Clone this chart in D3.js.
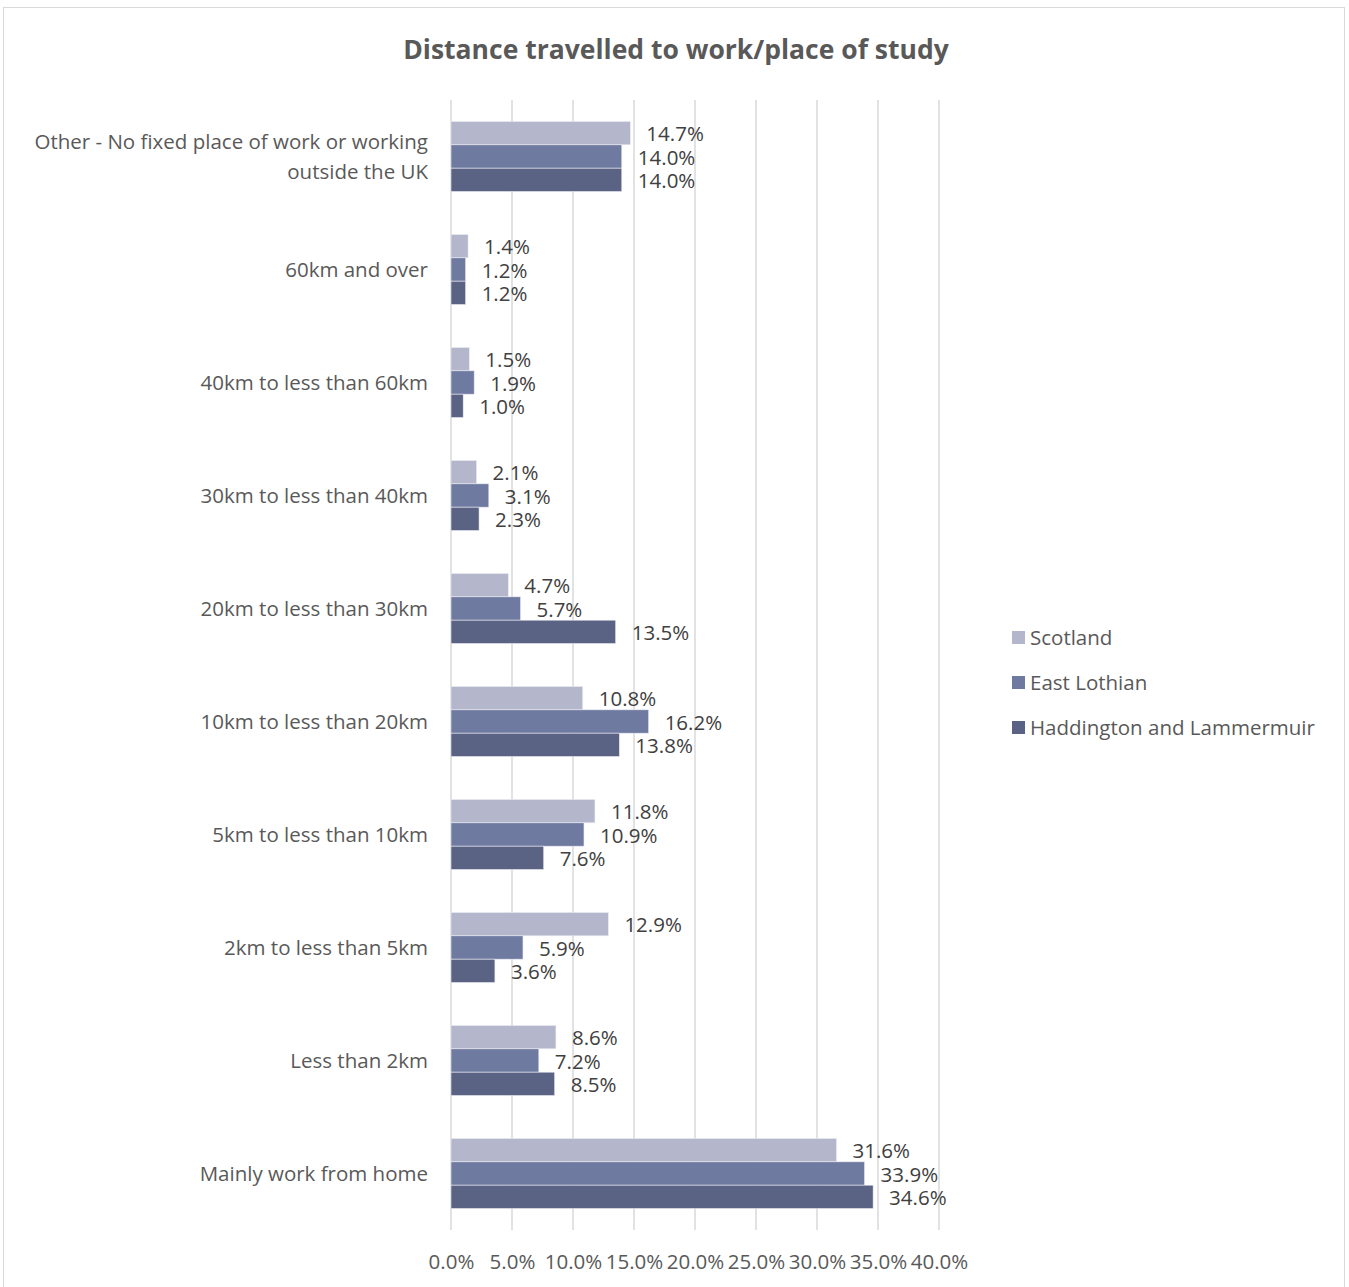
<!DOCTYPE html>
<html>
<head>
<meta charset="utf-8">
<script src="https://cdn.jsdelivr.net/npm/d3@7"></script>
<style>
  body { margin: 0; background: #fff; font-family: "Open Sans", sans-serif; }
</style>
</head>
<body>
<script>
const w = 1349;
const h = 1287;

// data, top to bottom as drawn
const categories = [
  "Other - No fixed place of work or working outside the UK",
  "60km and over",
  "40km to less than 60km",
  "30km to less than 40km",
  "20km to less than 30km",
  "10km to less than 20km",
  "5km to less than 10km",
  "2km to less than 5km",
  "Less than 2km",
  "Mainly work from home"
];
const seriesNames = ["Scotland", "East Lothian", "Haddington and Lammermuir"];
const scotland = [14.7, 1.4, 1.5, 2.1, 4.7, 10.8, 11.8, 12.9, 8.6, 31.6];
const eastLothian = [14.0, 1.2, 1.9, 3.1, 5.7, 16.2, 10.9, 5.9, 7.2, 33.9];
const haddington = [14.0, 1.2, 1.0, 2.3, 13.5, 13.8, 7.6, 3.6, 8.5, 34.6];
const xTicks = [0, 5, 10, 15, 20, 25, 30, 35, 40];
const colors = ["#B4B7CB", "#6F7AA0", "#5B6385"];

const seriesValues = [scotland, eastLothian, haddington];
const fs = 20.5;

const svg = d3.select("body")
  .append("svg")
  .attr("width", w)
  .attr("height", h);

// outer frame
svg.append("rect")
  .attr("x", 3.5).attr("y", 7.5)
  .attr("width", 1341).attr("height", 1290)
  .attr("fill", "#fff")
  .attr("stroke", "#D9D9D9");

svg.append("text")
  .text("Distance travelled to work/place of study")
  .attr("x", 676)
  .attr("y", 59)
  .attr("text-anchor", "middle")
  .attr("font-size", 26.5)
  .attr("font-weight", "bold")
  .attr("fill", "#595959");

const xScale = d3.scaleLinear()
  .domain([0, 40])
  .range([451, 939]);

const yScale = d3.scaleBand()
  .domain(categories)
  .range([100, 1230])
  .paddingInner(0.38)
  .paddingOuter(0.19);

const ySub = d3.scaleBand()
  .domain(seriesNames)
  .range([0, yScale.bandwidth()]);

// gridlines
svg.append("g")
  .selectAll("line")
  .data(xTicks)
  .enter()
  .append("line")
  .attr("x1", d => xScale(d))
  .attr("x2", d => xScale(d))
  .attr("y1", 100)
  .attr("y2", 1230)
  .attr("stroke", "#D9D9D9")
  .attr("stroke-width", 1.5);

const xAxis = d3.axisBottom(xScale)
  .tickValues(xTicks)
  .tickFormat(d => d.toFixed(1) + "%")
  .tickSize(0)
  .tickPadding(0);

const xg = svg.append("g")
  .attr("transform", "translate(0,1254)")
  .call(xAxis);
xg.select(".domain").remove();
xg.selectAll("text")
  .attr("font-family", "Open Sans, sans-serif")
  .attr("font-size", fs)
  .attr("fill", "#595959");

// category labels
const labelLines = {
  "Other - No fixed place of work or working outside the UK": ["Other - No fixed place of work or working", "outside the UK"]
};

const catLabels = svg.append("g")
  .selectAll("text")
  .data(categories)
  .enter()
  .append("text")
  .attr("x", 428)
  .attr("text-anchor", "end")
  .attr("font-size", fs)
  .attr("fill", "#595959");

catLabels.each(function(d) {
  const lines = labelLines[d] || [d];
  const cy = yScale(d) + yScale.bandwidth() / 2;
  const t = d3.select(this);
  lines.forEach((l, i) => {
    t.append("tspan")
      .attr("x", 428)
      .attr("y", cy + 7 + (i - (lines.length - 1) / 2) * 30)
      .text(l);
  });
});

// bars
seriesNames.forEach((s, si) => {
  const vals = seriesValues[si];
  const g = svg.append("g");
  g.selectAll("rect")
    .data(categories)
    .enter()
    .append("rect")
    .attr("x", xScale(0))
    .attr("y", d => yScale(d) + ySub(s))
    .attr("height", ySub.bandwidth())
    .attr("width", (d, i) => xScale(vals[i]) - xScale(0))
    .attr("fill", colors[si])
    .attr("stroke", "#ECEDF2")
    .attr("stroke-width", 0.6);

  g.selectAll("text")
    .data(categories)
    .enter()
    .append("text")
    .text((d, i) => vals[i].toFixed(1) + "%")
    .attr("x", (d, i) => xScale(vals[i]) + 16)
    .attr("y", d => yScale(d) + ySub(s) + ySub.bandwidth() / 2 + 8)
    .attr("font-size", fs)
    .attr("fill", "#404040");
});

// legend
const legend = svg.append("g");
seriesNames.forEach((s, i) => {
  legend.append("rect")
    .attr("x", 1012)
    .attr("y", 631 + i * 45)
    .attr("width", 13)
    .attr("height", 13)
    .attr("fill", colors[i]);
  legend.append("text")
    .text(s)
    .attr("x", 1030)
    .attr("y", 645 + i * 45)
    .attr("font-size", fs)
    .attr("fill", "#595959");
});
</script>
</body>
</html>
